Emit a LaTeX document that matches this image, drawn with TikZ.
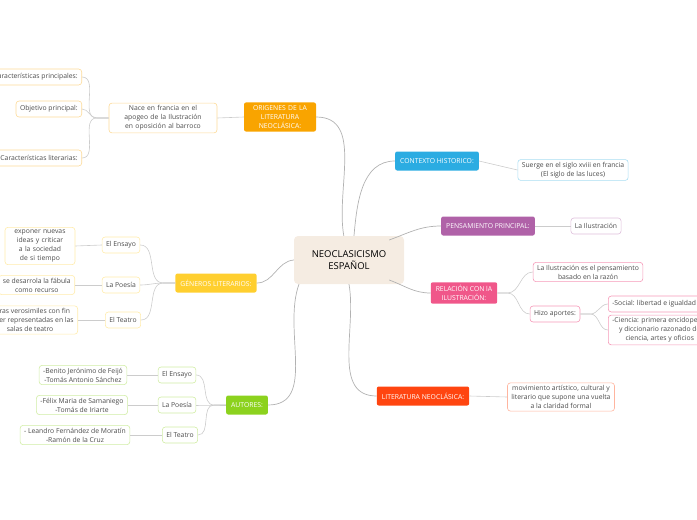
\documentclass[tikz,border=0pt]{standalone}
\usepackage{fontspec}
\setmainfont{Open Sans}
\begin{document}
\begin{tikzpicture}[x=1pt,y=-1pt,
 every node/.style={font=\fontsize{6.8}{9}\selectfont, align=center, text=black!70},
 main/.style={rounded corners=2pt, fill=#1, text=white, inner xsep=5pt, inner ysep=3pt, minimum height=19pt},
 sub/.style={rounded corners=3pt, draw=#1, fill=white, line width=0.6pt, inner xsep=4pt, inner ysep=2.5pt, minimum height=16pt},
 conn/.style={draw=black!30, line width=0.7pt},
 link/.style={draw=black!20, line width=0.6pt}]
\definecolor{cor}{HTML}{F9A400}\definecolor{cye}{HTML}{FFCF2F}\definecolor{cgr}{HTML}{8CD21E}
\definecolor{cbl}{HTML}{2BACE2}\definecolor{cpu}{HTML}{B062A8}\definecolor{cpi}{HTML}{F0578A}
\definecolor{cre}{HTML}{FF4510}
\useasboundingbox (0,0) rectangle (697,520);
\node[rounded corners=4pt, fill=brown!15, minimum width=110pt, minimum height=48pt, text=black, font=\fontsize{9.5}{12.5}\selectfont] (c) at (349,260) {NEOCLASICISMO\\ESPAÑOL};
% left
\node[main=cor, text width=62pt] (or) at (280,117) {ORIGENES DE LA\\LITERATURA\\NEOCLÁSICA:};
\node[sub=cor!40, text width=100pt] (na) at (163,118) {Nace en francia en el apogeo de la Ilustración en oposición al barroco};
\node[sub=cor!40, anchor=east] (cp) at (82,77) {Características principales:};
\node[sub=cor!40, anchor=east] (op) at (82,109) {Objetivo principal:};
\node[sub=cor!40, anchor=east] (cl) at (82,158) {Características literarias:};
\node[main=cye] (ge) at (216,283) {GÉNEROS LITERARIOS:};
\node[sub=cye!40] (g1) at (121,245) {El Ensayo};
\node[sub=cye!40] (g2) at (121,285) {La Poesía};
\node[sub=cye!40] (g3) at (123,320) {El Teatro};
\node[sub=cye!40, text width=62pt] (g1a) at (40,246) {exponer nuevas ideas y criticar a la sociedad de si tiempo};
\node[sub=cye!40, anchor=east] (g2a) at (75,285) {se desarrola la fábula\\como recurso};
\node[sub=cye!40, anchor=east] (g3a) at (78,320) {Obras verosimiles con fin\\de ser representadas en las\\salas de teatro};
\node[main=cgr] (au) at (247,405) {AUTORES:};
\node[sub=cgr!40] (a1) at (177,375) {El Ensayo};
\node[sub=cgr!40] (a2) at (177,405) {La Poesía};
\node[sub=cgr!40] (a3) at (180,435) {El Teatro};
\node[sub=cgr!40] (a1a) at (83,375) {-Benito Jerónimo de Feijó\\-Tomás Antonio Sánchez};
\node[sub=cgr!40] (a2a) at (82,405) {-Félix Maria de Samaniego\\-Tomás de Iriarte};
\node[sub=cgr!40] (a3a) at (75,435) {- Leandro Fernández de Moratín\\-Ramón de la Cruz};
% right
\node[main=cbl] (co) at (437,161) {CONTEXTO HISTORICO:};
\node[sub=cbl!40] (co1) at (573,170) {Suerge en el siglo xviii en francia\\(El siglo de las luces)};
\node[main=cpu] (pe) at (488,226) {PENSAMIENTO PRINCIPAL:};
\node[sub=cpu!40] (pe1) at (596,226) {La Ilustración};
\node[main=cpi] (re) at (464,293) {RELACIÓN CON lA\\ILUSTRACIÓN:};
\node[sub=cpi!60] (re1) at (588,272) {La Ilustración es el pensamiento\\basado en la razón};
\node[sub=cpi!60] (re2) at (555,314) {Hizo aportes:};
\node[sub=cpi!60, anchor=west] (re3) at (608,304) {-Social: libertad e igualdad};
\node[sub=cpi!60, anchor=west] (re4) at (608,330) {-Ciencia: primera encidopedia\\y diccionario razonado de\\ciencia, artes y oficios};
\node[main=cre] (li) at (423,396) {LITERATURA NEOCLÁSICA:};
\node[sub=cre!40] (li1) at (561,397) {movimiento artístico, cultural y\\literario que supone una vuelta\\a la claridad formal};
% connectors from center
\draw[conn] (c.north west)++(50,0) to[out=100,in=0] (or.east);
\draw[conn] (c.west) to[out=185,in=0] (ge.east);
\draw[conn] (c.south) ++(-50,0) to[out=250,in=0] (au.east);
\draw[conn] (c.north) ++(5,0) to[out=85,in=180] (co.west);
\draw[conn] (c.east) ++(-15,-20) to[out=20,in=180] (pe.west);
\draw[conn] (c.east) ++(-15,20) to[out=-20,in=180] (re.west);
\draw[conn] (c.south) to[out=-80,in=180] (li.west);
% sub links
\draw[link] (or.west) -- (na.east);
\foreach \n in {cp,op,cl} \draw[link] (na.west) -- ++(-12,0) to[out=180,in=0] (\n.east);
\foreach \n in {g1,g2,g3} \draw[link] (ge.west) -- ++(-12,0) to[out=180,in=0] (\n.east);
\draw[link] (g1.west) -- (g1a.east); \draw[link] (g2.west) -- (g2a.east); \draw[link] (g3.west) -- (g3a.east);
\foreach \n in {a1,a2,a3} \draw[link] (au.west) -- ++(-12,0) to[out=180,in=0] (\n.east);
\draw[link] (a1.west) -- (a1a.east); \draw[link] (a2.west) -- (a2a.east); \draw[link] (a3.west) -- (a3a.east);
\draw[link] (co.east) -- (co1.west);
\draw[link] (pe.east) -- (pe1.west);
\foreach \n in {re1,re2} \draw[link] (re.east) -- ++(10,0) to[out=0,in=180] (\n.west);
\foreach \n in {re3,re4} \draw[link] (re2.east) -- ++(10,0) to[out=0,in=180] (\n.west);
\draw[link] (li.east) -- (li1.west);
\end{tikzpicture}
\end{document}
